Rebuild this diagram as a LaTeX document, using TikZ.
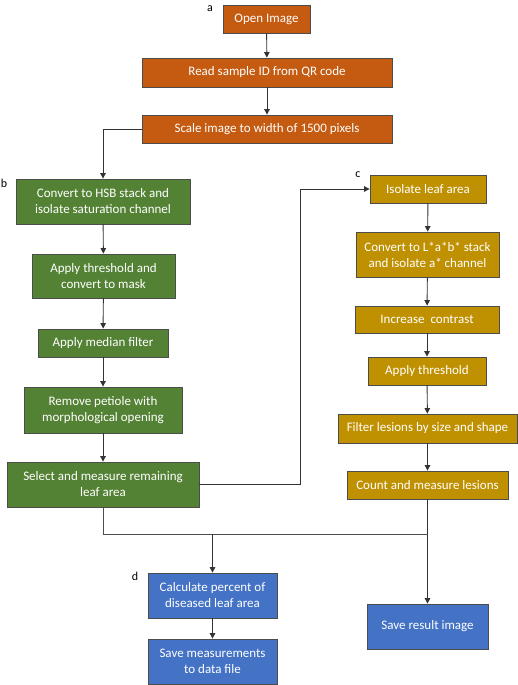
\documentclass[tikz,border=0pt]{standalone}
\usepackage{fontspec}
\setmainfont{Carlito}
\usetikzlibrary{arrows.meta}
\definecolor{preporange}{RGB}{197,90,17}
\definecolor{prepgreen}{RGB}{84,130,53}
\definecolor{prepgold}{RGB}{191,144,0}
\definecolor{prepblue}{RGB}{68,114,196}

\begin{document}
\begin{tikzpicture}[x=1pt, y=-1pt]
    % Define styles
    \tikzstyle{stepbox} = [rectangle, draw=black!70, line width=0.8pt, text=white, align=center, inner sep=0pt, font=\fontsize{13}{16}\selectfont]
    \tikzstyle{imgbox} = [stepbox, fill=preporange]
    \tikzstyle{leafbox} = [stepbox, fill=prepgreen]
    \tikzstyle{lesionbox} = [stepbox, fill=prepgold]
    \tikzstyle{outbox} = [stepbox, fill=prepblue]
    \tikzstyle{panel} = [font=\fontsize{12}{14}\selectfont, inner sep=0pt]
    \tikzstyle{arrow} = [line width=0.9pt, ->, >={Triangle[length=5.5pt,width=5.5pt]}, black!80]
    \tikzstyle{line} = [line width=0.9pt, black!70]

    \useasboundingbox (0,0) rectangle (517,685);

    % Nodes
    \node (open) [imgbox, minimum width=87pt, minimum height=28pt] at (266.5,19) {Open Image};
    \node (read) [imgbox, minimum width=250pt, minimum height=29pt] at (267,72.5) {Read sample ID from QR code};
    \node (scale) [imgbox, minimum width=250pt, minimum height=28pt] at (267,129) {Scale image to width of 1500 pixels};

    \node (hsb) [leafbox, minimum width=174pt, minimum height=45pt] at (103,201.5) {Convert to HSB stack and\\isolate saturation channel};
    \node (mask) [leafbox, minimum width=143pt, minimum height=44pt] at (103.5,276) {Apply threshold and\\convert to mask};
    \node (median) [leafbox, minimum width=130pt, minimum height=28pt] at (103,343) {Apply median filter};
    \node (petiole) [leafbox, minimum width=158pt, minimum height=46pt] at (103,410) {Remove petiole with\\morphological opening};
    \node (leafarea) [leafbox, minimum width=192pt, minimum height=45pt] at (103,484.5) {Select and measure remaining\\leaf area};

    \node (isolate) [lesionbox, minimum width=116pt, minimum height=28pt] at (428,189) {Isolate leaf area};
    \node (lab) [lesionbox, minimum width=143pt, minimum height=45pt] at (427.5,254.5) {Convert to L*a*b* stack\\and isolate a* channel};
    \node (contrast) [lesionbox, minimum width=144pt, minimum height=27pt] at (427,319.5) {Increase\ \ contrast};
    \node (lthresh) [lesionbox, minimum width=118pt, minimum height=28pt] at (427,371) {Apply threshold};
    \node (filter) [lesionbox, minimum width=179pt, minimum height=29pt] at (427.5,428.5) {Filter lesions by size and shape};
    \node (count) [lesionbox, minimum width=161pt, minimum height=28pt] at (427.5,485) {Count and measure lesions};

    \node (percent) [outbox, minimum width=129pt, minimum height=45pt] at (212.5,595.5) {Calculate percent of\\diseased leaf area};
    \node (savedata) [outbox, minimum width=129pt, minimum height=45pt] at (212.5,661.5) {Save measurements\\to data file};
    \node (saveimg) [outbox, minimum width=121pt, minimum height=45pt] at (427.5,626.5) {Save result image};

    % Panel letters
    \node (la) [panel] at (210,9) {a};
    \node (lb) [panel] at (4,183) {b};
    \node (lc) [panel] at (358,175) {c};
    \node (ld) [panel] at (135,576) {d};

    % Helper coordinates
    \coordinate (turn) at (300,484.5);
    \coordinate (joinl) at (103,534);
    \coordinate (joinr) at (427.5,534);
    \coordinate (joinm) at (212.5,534);

    % Arrows
    \draw [arrow] (open) -- (read);
    \draw [arrow] (read) -- (scale);
    \draw [arrow] (scale.west) -| (hsb.north);
    \draw [arrow] (hsb) -- (mask);
    \draw [arrow] (mask) -- (median);
    \draw [arrow] (median) -- (petiole);
    \draw [arrow] (petiole) -- (leafarea);
    \draw [arrow] (leafarea.east) -- (turn) |- (isolate.west);
    \draw [arrow] (isolate) -- (lab);
    \draw [arrow] (lab) -- (contrast);
    \draw [arrow] (contrast) -- (lthresh);
    \draw [arrow] (lthresh) -- (filter);
    \draw [arrow] (filter) -- (count);
    \draw [arrow] (count) -- (saveimg);
    \draw [line] (leafarea.south) -- (joinl) -- (joinr);
    \draw [arrow] (joinm) -- (percent);
    \draw [arrow] (percent) -- (savedata);
\end{tikzpicture}
\end{document}
